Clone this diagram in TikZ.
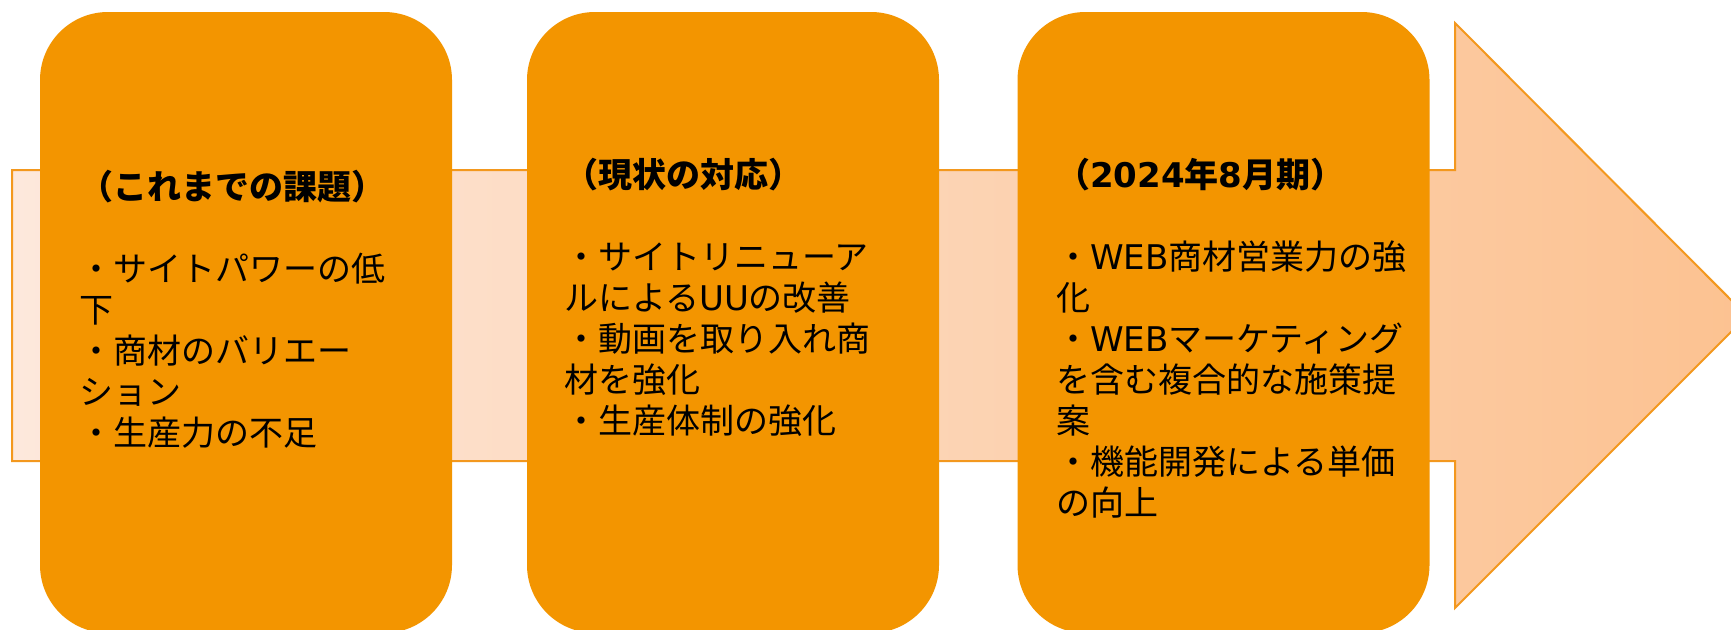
\documentclass[tikz,border=0pt]{standalone}
\usepackage{fontspec}
\setmainfont{Noto Sans CJK JP}
\newfontfamily\latinpart{DejaVu Sans}
\definecolor{boxorange}{RGB}{243,149,0}
\definecolor{arrowedge}{RGB}{243,152,30}
\definecolor{arrowleft}{RGB}{253,232,220}
\definecolor{arrowright}{RGB}{252,194,145}
\newcommand{\lat}[1]{{\latinpart #1}}
\begin{document}
\begin{tikzpicture}[x=1pt,y=-1pt,
  stagebox/.style={fill=boxorange, draw=none, rounded corners=68pt, minimum width=412pt, minimum height=621pt, inner sep=0pt},
  stagetext/.style={anchor=base west, inner sep=0pt, font=\fontsize{34}{41}\selectfont, text=black},
  bigarrow/.style={draw=arrowedge, line width=2pt, left color=arrowleft, right color=arrowright}]
\useasboundingbox (0,0) rectangle (1731,629);
\fill[white] (0,0) rectangle (1731,629);
% big background arrow
\draw[bigarrow] (12,170) -- (1455,170) -- (1455,23) -- (1747,316) -- (1455,608) -- (1455,461) -- (12,461) -- cycle;
% stage boxes
\node[stagebox] (box1) at (246,322.5) {};
\node[stagebox] (box2) at (733,322.5) {};
\node[stagebox] (box3) at (1223.5,322.5) {};
% texts
\node[stagetext] (txt1) at (79,199) {\vtop{\baselineskip=41pt
  \hbox{\bfseries （これまでの課題）}\hbox{}
  \hbox{・サイトパワーの低}\hbox{下}
  \hbox{・商材のバリエー}\hbox{ション}
  \hbox{・生産力の不足}}};
\node[stagetext] (txt2) at (564,187) {\vtop{\baselineskip=41pt
  \hbox{\bfseries （現状の対応）}\hbox{}
  \hbox{・サイトリニューア}\hbox{ルによる\lat{UU}の改善}
  \hbox{・動画を取り入れ商}\hbox{材を強化}
  \hbox{・生産体制の強化}}};
\node[stagetext] (txt3) at (1056,187) {\vtop{\baselineskip=41pt
  \hbox{\bfseries （\lat{2024}年\lat{8}月期）}\hbox{}
  \hbox{・\lat{WEB}商材営業力の強}\hbox{化}
  \hbox{・\lat{WEB}マーケティング}\hbox{を含む複合的な施策提}\hbox{案}
  \hbox{・機能開発による単価}\hbox{の向上}}};
\end{tikzpicture}
\end{document}
